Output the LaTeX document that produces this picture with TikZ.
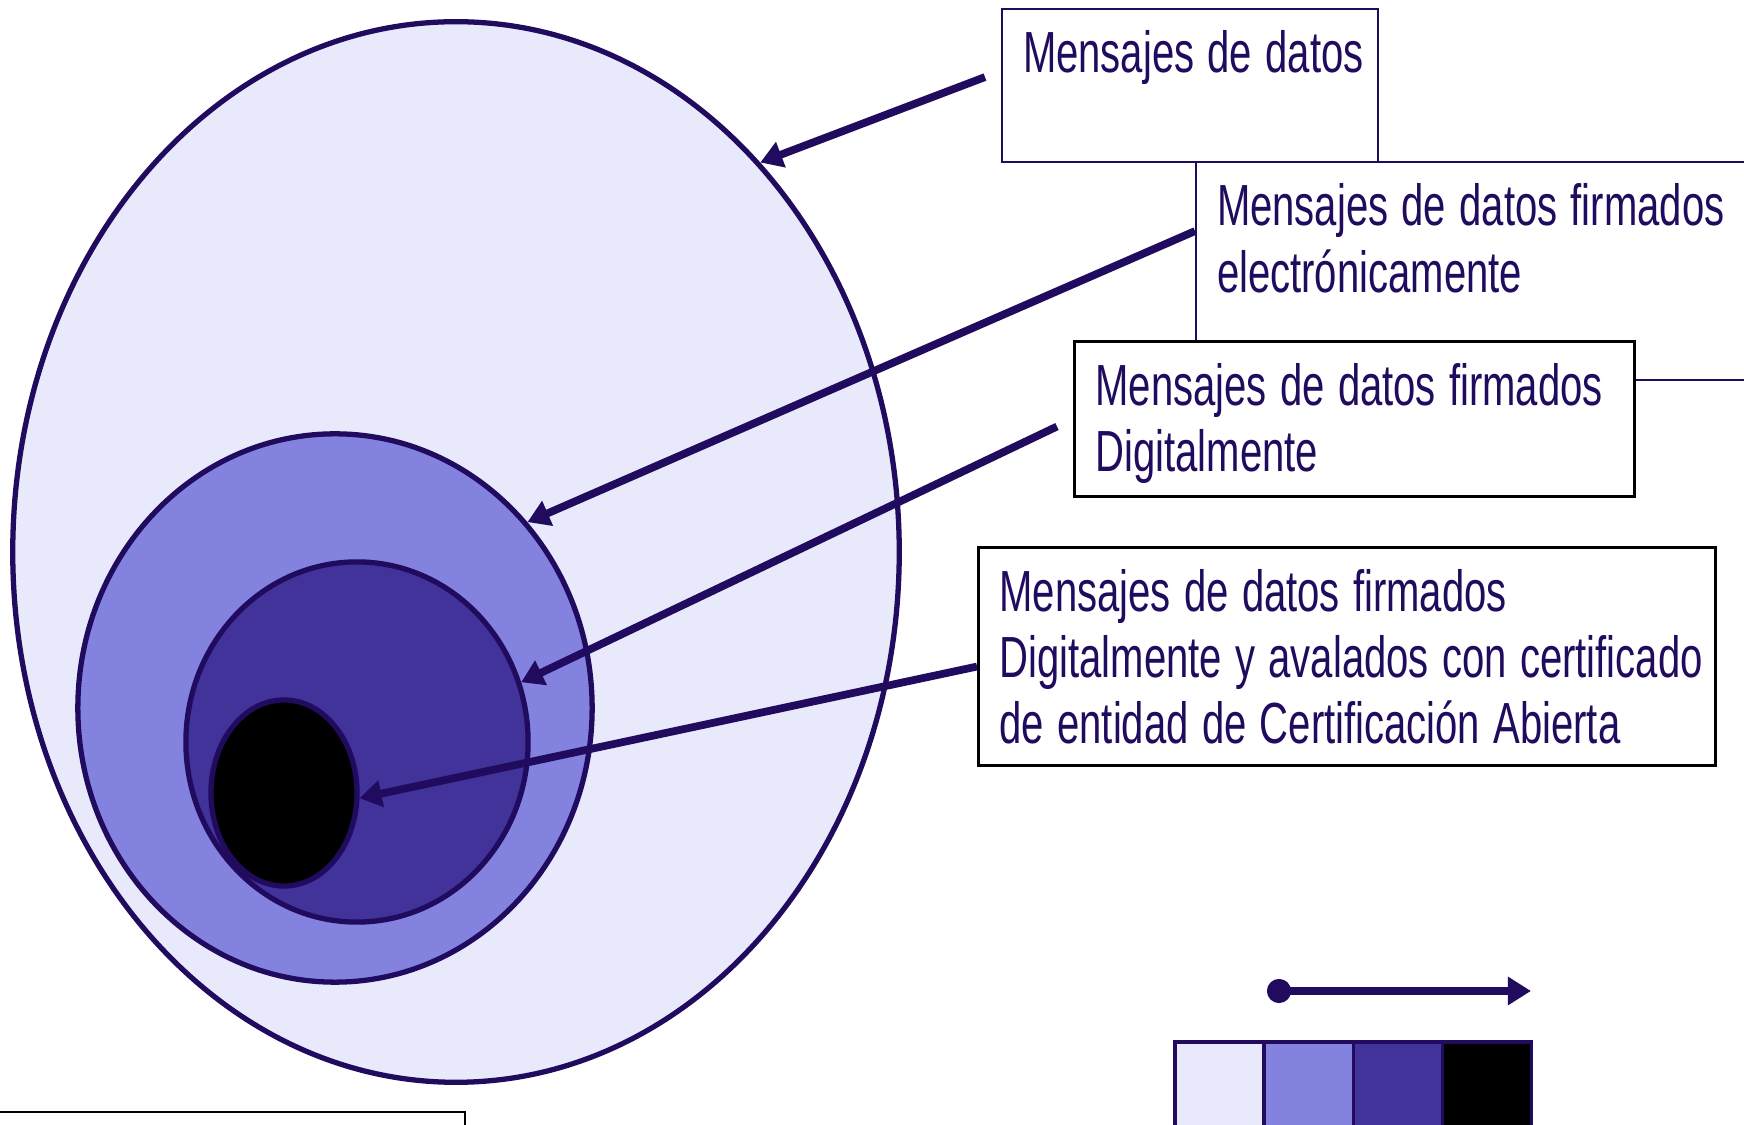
\documentclass[tikz,border=0pt]{standalone}
\usepackage{fontspec}
\setmainfont{Liberation Sans}
\usetikzlibrary{shapes.geometric,arrows.meta,positioning}
\definecolor{navy}{RGB}{33,11,94}
\definecolor{pale}{RGB}{232,234,252}
\definecolor{lavender}{RGB}{131,131,223}
\definecolor{indigo}{RGB}{65,51,154}
\newcommand{\narrow}[1]{\scalebox{0.69}[1]{#1}}
\tikzset{ring/.style={ellipse,draw=navy,line width=1.5pt,inner sep=0pt},
lbox/.style={draw=navy,line width=0.6pt,fill=white,anchor=north west,align=left,inner xsep=0.21cm,inner ysep=0pt,text height=0.635cm,text=navy,font=\fontsize{16.5pt}{18.9pt}\selectfont},
ptr/.style={draw=navy,line width=2.2pt,-{Triangle[length=0.22cm,width=0.26cm]}},
swatch/.style={draw=navy,line width=0.9pt,minimum width=0.89cm,minimum height=1cm,inner sep=0pt,outer sep=0pt}}

\begin{document}
\begin{tikzpicture}[x=0.01cm,y=-0.01cm]
\useasboundingbox (0,0) rectangle (1744,1125);
\clip (0,0) rectangle (1744,1125);
\node[ring,fill=pale,minimum width=8.86cm,minimum height=10.6cm](outer) at (456,552){};
\node[ring,fill=lavender,minimum width=5.14cm,minimum height=5.48cm](mid) at (335,708){};
\node[ring,fill=indigo,minimum width=3.42cm,minimum height=3.6cm](dark) at (357,742){};
\node[ring,fill=black,minimum width=1.46cm,minimum height=1.86cm](core) at (284,793){};
\node[lbox,text width=5.53cm,text depth=1.545cm](elec) at (1195,161){\narrow{Mensajes de datos firmados}\\\narrow{electrónicamente}};
\node[lbox,text width=3.34cm,text depth=0.895cm](msg) at (1001,8){\narrow{Mensajes de datos}};
\node[lbox,draw=black,line width=0.85pt,text width=5.18cm,text depth=0.915cm](dig) at (1073,340){\narrow{Mensajes de datos firmados}\\\narrow{Digitalmente}};
\node[lbox,draw=black,line width=0.85pt,text width=6.95cm,text depth=1.545cm](cert) at (977,546){\narrow{Mensajes de datos firmados}\\\narrow{Digitalmente y avalados con certificado}\\\narrow{de entidad de Certificación Abierta}};
\draw[ptr]([xshift=-0.16cm,yshift=0.085cm]msg.west)--(outer.52);
\draw[ptr]([yshift=0.4cm]elec.west)--(mid.44);
\draw[ptr]([xshift=-0.16cm,yshift=-0.075cm]dig.west)--(dark.20);
\draw[ptr]([yshift=-0.1cm]cert.west)--(core.-4);
\draw[black,line width=0.6pt](-10,1112) rectangle (465,1160);
\coordinate (dot) at (1267,991);
\coordinate (tip) at (1531,991);
\draw[draw=navy,line width=2.2pt,{Circle[length=0.24cm]}-{Triangle[length=0.23cm,width=0.27cm]}](dot)--(tip);
\node[swatch,fill=pale,anchor=north west](sw1) at (1175,1042){};
\node[swatch,fill=lavender,right=0pt of sw1](sw2){};
\node[swatch,fill=indigo,right=0pt of sw2](sw3){};
\node[swatch,fill=black,right=0pt of sw3](sw4){};
\end{tikzpicture}
\end{document}
